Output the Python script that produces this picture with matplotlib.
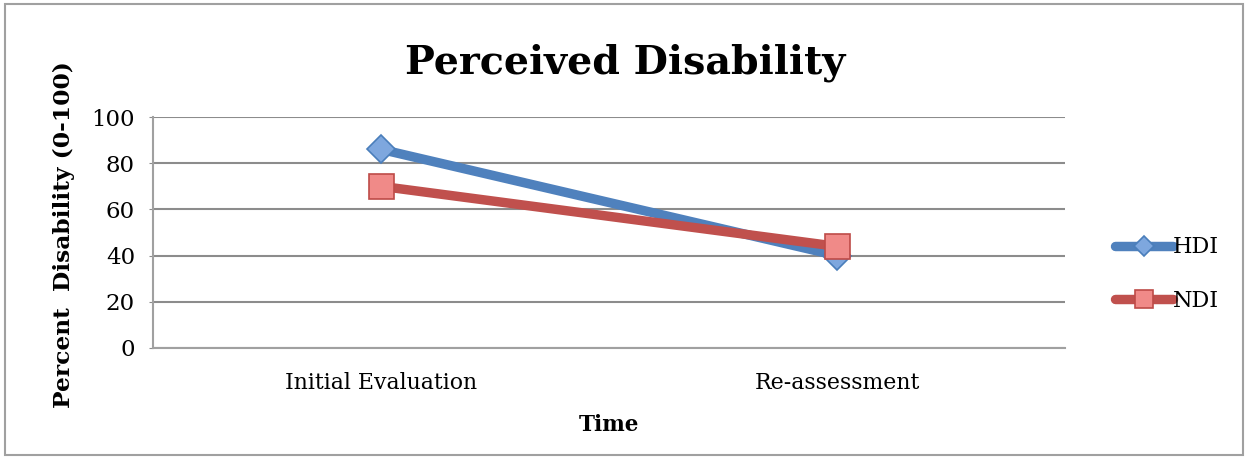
import matplotlib
matplotlib.use("Agg")
import matplotlib.pyplot as plt
from matplotlib.patches import Rectangle

categories = ["Initial Evaluation", "Re-assessment"]
hdi = [86, 40]
ndi = [70, 44]
yticks = [0, 20, 40, 60, 80, 100]

plt.rcParams['font.family'] = ['DejaVu Serif']

W, H = 1249, 458
fig = plt.figure(figsize=(W / 100, H / 100), dpi=100)
ax = fig.add_axes([153 / W, 1 - 348 / H, (1065 - 153) / W, (348 - 117) / H])

x = list(range(len(categories)))
ax.plot(x, hdi, color='#4F81BD', lw=6.8, marker='D', ms=14,
        mfc='#7EA7DE', mec='#4A7EBB', mew=1.2, label='HDI', zorder=3,
        solid_capstyle='round')
ax.plot(x, ndi, color='#C0504D', lw=6.8, marker='s', ms=18,
        mfc='#F08A88', mec='#BE4B48', mew=1.2, label='NDI', zorder=4,
        solid_capstyle='round')

ax.set_xlim(-0.5, 1.5)
ax.set_ylim(0, 100)
ax.set_yticks(yticks)
ax.set_xticks(x)
ax.set_xticklabels(categories, fontsize=15.8)
ax.tick_params(axis='x', length=0, pad=17)
ax.tick_params(axis='y', length=3, color='#8C8C8C', labelsize=16.5, pad=10)
ax.yaxis.grid(True, color='#8C8C8C', lw=1.5)
ax.set_axisbelow(True)
for s in ['top', 'right']:
    ax.spines[s].set_visible(False)
for s in ['left', 'bottom']:
    ax.spines[s].set_color('#A0A0A0')
    ax.spines[s].set_linewidth(1.5)

fig.text(625 / W, 1 - 73 / H, "Perceived Disability", ha='center', va='baseline',
         fontsize=28.5, fontweight='bold')
fig.text(64 / W, 1 - 235 / H, "Percent  Disability (0-100)", ha='center', va='center',
         rotation=90, fontsize=16.8, fontweight='bold')
fig.text(609 / W, 1 - 425 / H, "Time", ha='center', va='center',
         fontsize=15.5, fontweight='bold')

leg = ax.legend(loc='center left', bbox_to_anchor=(1104 / W, 1 - 274 / H),
                bbox_transform=fig.transFigure, frameon=False, fontsize=16,
                handlelength=2.6, handletextpad=0.0, labelspacing=1.4,
                markerscale=0.7, borderpad=0)

fig.patches.append(Rectangle((5 / W, 3 / H), (1243 - 5) / W, (454 - 3) / H,
                             transform=fig.transFigure, fill=False,
                             edgecolor='#A0A0A0', lw=1.5))

fig.savefig("out.png", dpi=100)
